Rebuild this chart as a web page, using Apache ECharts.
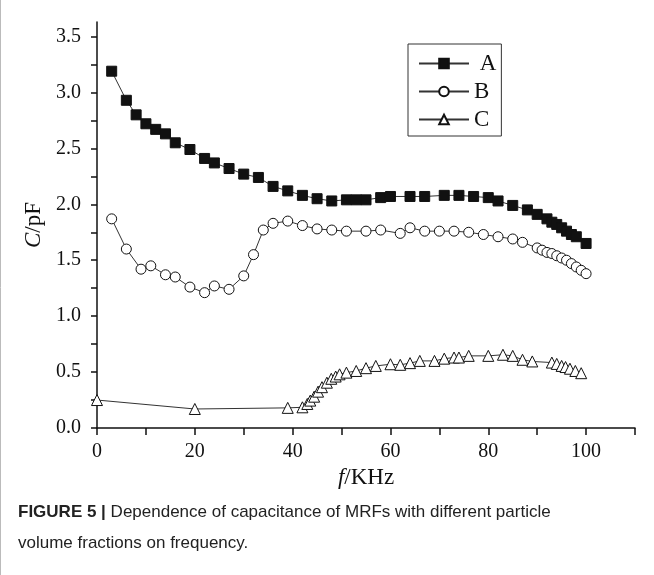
<!DOCTYPE html>
<html>
<head>
<meta charset="utf-8">
<script src="https://cdn.jsdelivr.net/npm/echarts@6.0.0/dist/echarts.min.js"></script>
<style>
  html, body { margin: 0; padding: 0; background: #fff; }
  #chart { width: 654px; height: 575px; }
</style>
</head>
<body>
<div id="chart"></div>
<script>
// frequency (KHz) and capacitance (pF)
const fA = [3, 6, 8, 10, 12, 14, 16, 19, 22, 24, 27, 30, 33, 36, 39, 42, 45, 48, 51, 53,
  55, 58, 60, 64, 67, 71, 74, 77, 80, 82, 85, 88, 90, 92, 93, 94, 95, 96, 97, 98, 100];
const capA = [3.19, 2.93, 2.80, 2.72, 2.67, 2.63, 2.55, 2.49, 2.41, 2.37, 2.32, 2.27, 2.24, 2.16, 2.12, 2.08, 2.05, 2.03, 2.04, 2.04,
  2.04, 2.06, 2.07, 2.07, 2.07, 2.08, 2.08, 2.07, 2.06, 2.03, 1.99, 1.95, 1.91, 1.87, 1.84, 1.82, 1.79, 1.76, 1.73, 1.71, 1.65];

const fB = [3, 6, 9, 11, 14, 16, 19, 22, 24, 27, 30, 32, 34, 36, 39, 42, 45, 48, 51, 55,
  58, 62, 64, 67, 70, 73, 76, 79, 82, 85, 87, 90, 91, 92, 93, 94, 95, 96, 97, 98, 99, 100];
const capB = [1.87, 1.60, 1.42, 1.45, 1.37, 1.35, 1.26, 1.21, 1.27, 1.24, 1.36, 1.55, 1.77, 1.83, 1.85, 1.81, 1.78, 1.77, 1.76, 1.76,
  1.77, 1.74, 1.79, 1.76, 1.76, 1.76, 1.75, 1.73, 1.71, 1.69, 1.66, 1.61, 1.59, 1.57, 1.56, 1.54, 1.52, 1.50, 1.47, 1.44, 1.41, 1.38];

const fC = [0, 20, 39, 42, 43, 43.6, 44.4, 45.2, 46, 47, 47.9, 48.8, 49.6, 51, 53, 55, 57, 60, 62, 64,
  66, 69, 71, 73, 74, 76, 80, 83, 85, 87, 89, 93, 94, 95, 95.8, 96.7, 97.8, 99];
const capC = [0.25, 0.17, 0.18, 0.185, 0.215, 0.245, 0.28, 0.325, 0.365, 0.405, 0.44, 0.46, 0.48, 0.495, 0.51, 0.535, 0.555, 0.57, 0.565, 0.58,
  0.60, 0.60, 0.62, 0.63, 0.63, 0.645, 0.645, 0.655, 0.645, 0.61, 0.595, 0.585, 0.573, 0.555, 0.545, 0.53, 0.51, 0.49];

const xTicks = [0, 10, 20, 30, 40, 50, 60, 70, 80, 90, 100, 110];
const xLabels = [0, 20, 40, 60, 80, 100];
const yTicks = [0, 0.25, 0.5, 0.75, 1, 1.25, 1.5, 1.75, 2, 2.25, 2.5, 2.75, 3, 3.25, 3.5];
const yLabels = [0, 0.5, 1, 1.5, 2, 2.5, 3, 3.5];

const serif = 'Liberation Serif';
const ink = '#111';

function pairs(xs, ys) {
  return xs.map((x, i) => [x, ys[i]]);
}

const chart = echarts.init(document.getElementById('chart'), null, { renderer: 'canvas' });

const lineSeries = (name, data, symbol, size, fill) => ({
  name,
  type: 'line',
  data,
  symbol,
  symbolSize: size,
  showSymbol: true,
  animation: false,
  lineStyle: { color: '#333', width: 1 },
  itemStyle: { color: fill, borderColor: ink, borderWidth: 1 },
  emphasis: { disabled: true },
});

chart.setOption({
  backgroundColor: '#fff',
  animation: false,
  grid: { left: 97, right: 19, top: 22, bottom: 147 },
  xAxis: {
    type: 'value',
    min: 0,
    max: 110,
    name: '{i|f}/KHz',
    nameLocation: 'middle',
    nameGap: 25,
    nameTextStyle: {
      fontFamily: serif, fontSize: 23, color: ink,
      rich: { i: { fontFamily: serif, fontSize: 23, fontStyle: 'italic', color: ink } },
    },
    axisLine: { lineStyle: { color: ink, width: 1.5 } },
    axisTick: { show: true, inside: false, length: 7, customValues: xTicks, lineStyle: { color: ink, width: 1.5 } },
    axisLabel: {
      customValues: xLabels,
      margin: 14,
      fontFamily: serif, fontSize: 20, color: ink,
    },
    splitLine: { show: false },
  },
  yAxis: {
    type: 'value',
    min: 0,
    max: 3.63,
    name: '{i|C}/pF',
    nameLocation: 'middle',
    nameRotate: 90,
    nameGap: 49,
    nameTextStyle: {
      fontFamily: serif, fontSize: 23, color: ink,
      rich: { i: { fontFamily: serif, fontSize: 23, fontStyle: 'italic', color: ink } },
    },
    axisLine: { show: true, lineStyle: { color: ink, width: 1.5 } },
    axisTick: { show: true, inside: false, length: 6, customValues: yTicks, lineStyle: { color: ink, width: 1.5 } },
    axisLabel: {
      customValues: yLabels,
      margin: 16,
      fontFamily: serif, fontSize: 20, color: ink,
      formatter: v => v.toFixed(1),
    },
    splitLine: { show: false },
  },
  legend: {
    data: ['A', 'B', 'C'],
    orient: 'vertical',
    left: 408,
    top: 44,
    padding: [8, 5, 5, 10],
    borderColor: '#333',
    borderWidth: 1,
    itemWidth: 50,
    itemHeight: 12,
    itemGap: 5,
    selectedMode: false,
    formatter: name => (name === 'A' ? ' ' + name : name),
    textStyle: { fontFamily: serif, fontSize: 23, color: ink },
  },
  series: [
    lineSeries('A', pairs(fA, capA), 'rect', 10, ink),
    lineSeries('B', pairs(fB, capB), 'circle', 10, '#fff'),
    lineSeries('C', pairs(fC, capC), 'triangle', 11, '#fff'),
  ],
  graphic: [
    {
      type: 'line',
      shape: { x1: 0.5, y1: 0, x2: 0.5, y2: 575 },
      style: { stroke: '#bbb', lineWidth: 1 },
      silent: true,
    },
    {
      type: 'text',
      left: 18,
      top: 497,
      silent: true,
      style: {
        text: '{b|FIGURE 5 |} Dependence of capacitance of MRFs with different particle\nvolume fractions on frequency.',
        fontFamily: 'Liberation Sans',
        fontSize: 17,
        lineHeight: 31,
        fill: '#222',
        rich: {
          b: { fontFamily: 'Liberation Sans', fontSize: 17, fontWeight: 'bold', fill: '#222', lineHeight: 31 },
        },
      },
    },
  ],
});
</script>
</body>
</html>
